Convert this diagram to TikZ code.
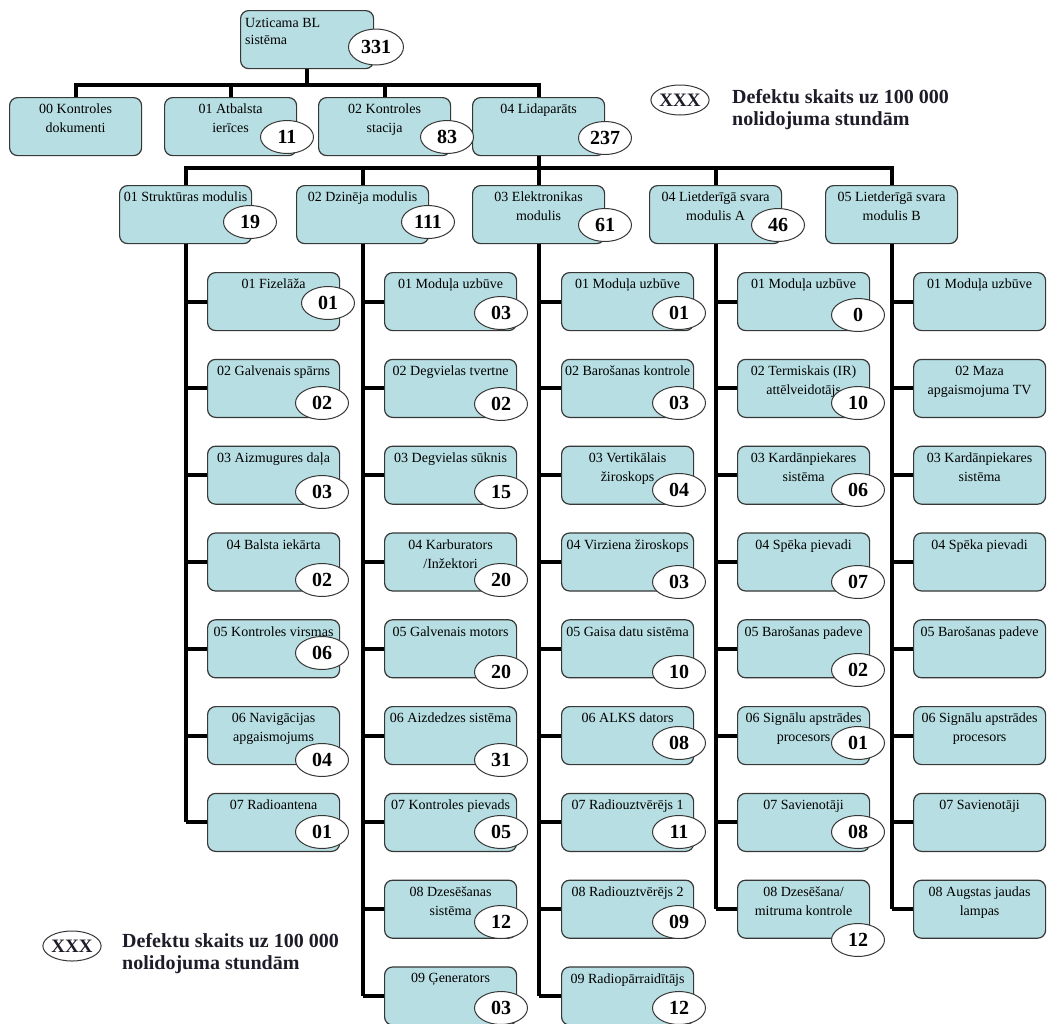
\documentclass[tikz,border=0pt]{standalone}
\usepackage{fontspec}
\setmainfont{Liberation Serif}
\usetikzlibrary{shapes.geometric,calc}
\definecolor{boxfill}{RGB}{183,222,226}
\definecolor{boxline}{RGB}{55,55,55}
\definecolor{legendc}{RGB}{30,28,40}
\tikzset{
 box/.style={draw=boxline, fill=boxfill, line width=1.2pt, rounded corners=8pt, minimum width=132pt, minimum height=58pt, anchor=north west, inner sep=0pt},
 btxt/.style={font=\fontsize{14}{19}\selectfont, align=center, inner sep=0pt, anchor=north},
 num/.style={ellipse, draw=boxline, fill=white, line width=1pt, minimum width=53pt, minimum height=33pt, inner sep=0pt, font=\fontsize{20}{20}\selectfont\bfseries},
 conn/.style={line width=4pt, black},
 legend/.style={font=\fontsize{20}{22}\selectfont\bfseries, align=left, anchor=north west, inner sep=0pt, text=legendc},
 xxx/.style={ellipse, draw=boxline, fill=white, line width=1pt, minimum width=51pt, minimum height=30pt, inner sep=0pt, font=\fontsize{19}{19}\selectfont\bfseries, text=legendc}
}
\newcommand\mybox[4]{%
 \node[box] (#1) at (#2,#3) {};
 \node[btxt] (#1t) at ([yshift=-7pt]#1.north) {#4};}
\begin{document}
\begin{tikzpicture}[x=1pt,y=-1pt]
\useasboundingbox (0,0) rectangle (1047,1023);
% top
\node[box, minimum width=133pt] (top) at (240,10) {};
\node[btxt, align=left, anchor=north west, font=\fontsize{14}{17}\selectfont] (topt) at ([xshift=5pt,yshift=-8pt]top.north west) {Uzticama BL\\sistēma};
% level 1
\mybox{La}{9}{97}{00 Kontroles\\dokumenti}
\mybox{Lb}{164}{97}{01 Atbalsta\\ierīces}
\mybox{Lc}{318}{97}{02 Kontroles\\stacija}
\mybox{Ld}{472}{97}{04 Lidaparāts}
% level 2
\mybox{Ma}{119}{185}{01 Struktūras modulis}
\mybox{Mb}{296}{185}{02 Dzinēja modulis}
\mybox{Mc}{472}{185}{03 Elektronikas\\modulis}
\mybox{Md}{649}{185}{04 Lietderīgā svara\\modulis A}
\mybox{Me}{825}{185}{05 Lietderīgā svara\\modulis B}
% level 1-2 connectors
\coordinate (b1) at (0,85);
\coordinate (b2) at (0,168);
\draw[conn] (top.south) -- (top.south |- b1);
\draw[conn] (La.north) -- (La.north |- b1) -- (Ld.north |- b1) -- (Ld.north);
\draw[conn] (Lb.north) -- (Lb.north |- b1);
\draw[conn] (Lc.north) -- (Lc.north |- b1);
\draw[conn] (Ld.south) -- (Ld.south |- b2);
\draw[conn] (Ma.north) -- (Ma.north |- b2) -- (Me.north |- b2) -- (Me.north);
\draw[conn] (Mb.north) -- (Mb.north |- b2);
\draw[conn] (Mc.north) -- (Mc.north |- b2);
\draw[conn] (Md.north) -- (Md.north |- b2);
% column 1
\foreach \r/\t in {1/{01 Fizelāža},2/{02 Galvenais spārns},3/{03 Aizmugures daļa},4/{04 Balsta iekārta},5/{05 Kontroles virsmas},6/{06 Navigācijas\\apgaismojums},7/{07 Radioantena}}{
 \pgfmathsetmacro\T{272+86.8*(\r-1)}
 \mybox{a\r}{207}{\T}{\t}
 \draw[conn] (Ma.south |- a\r.west) -- (a\r.west);}
\draw[conn] (Ma.south) -- (Ma.south |- a7.west);
% column 2
\foreach \r/\t in {1/{01 Moduļa uzbūve},2/{02 Degvielas tvertne},3/{03 Degvielas sūknis},4/{04 Karburators\\/Inžektori},5/{05 Galvenais motors},6/{06 Aizdedzes sistēma},7/{07 Kontroles pievads},8/{08 Dzesēšanas\\sistēma},9/{09 Ģenerators}}{
 \pgfmathsetmacro\T{272+86.8*(\r-1)}
 \mybox{b\r}{384}{\T}{\t}
 \draw[conn] (Mb.south |- b\r.west) -- (b\r.west);}
\draw[conn] (Mb.south) -- (Mb.south |- b9.west);
% column 3
\foreach \r/\t in {1/{01 Moduļa uzbūve},2/{02 Barošanas kontrole},3/{03 Vertikālais\\žiroskops},4/{04 Virziena žiroskops},5/{05 Gaisa datu sistēma},6/{06 ALKS dators},7/{07 Radiouztvērējs 1},8/{08 Radiouztvērējs 2},9/{09 Radiopārraidītājs}}{
 \pgfmathsetmacro\T{272+86.8*(\r-1)}
 \mybox{c\r}{561}{\T}{\t}
 \draw[conn] (Mc.south |- c\r.west) -- (c\r.west);}
\draw[conn] (Mc.south) -- (Mc.south |- c9.west);
% column 4
\foreach \r/\t in {1/{01 Moduļa uzbūve},2/{02 Termiskais (IR)\\attēlveidotājs},3/{03 Kardānpiekares\\sistēma},4/{04 Spēka pievadi},5/{05 Barošanas padeve},6/{06 Signālu apstrādes\\procesors},7/{07 Savienotāji},8/{08 Dzesēšana/\\mitruma kontrole}}{
 \pgfmathsetmacro\T{272+86.8*(\r-1)}
 \mybox{d\r}{737}{\T}{\t}
 \draw[conn] (Md.south |- d\r.west) -- (d\r.west);}
\draw[conn] (Md.south) -- (Md.south |- d8.west);
% column 5
\foreach \r/\t in {1/{01 Moduļa uzbūve},2/{02 Maza\\apgaismojuma TV},3/{03 Kardānpiekares\\sistēma},4/{04 Spēka pievadi},5/{05 Barošanas padeve},6/{06 Signālu apstrādes\\procesors},7/{07 Savienotāji},8/{08 Augstas jaudas\\lampas}}{
 \pgfmathsetmacro\T{272+86.8*(\r-1)}
 \mybox{e\r}{913}{\T}{\t}
 \draw[conn] (Me.south |- e\r.west) -- (e\r.west);}
\draw[conn] (Me.south) -- (Me.south |- e8.west);
% numbers
\node[num, minimum width=55pt, minimum height=36pt] (topn) at (376,47) {331};
\node[num] (Lbn) at (287,137) {11};
\node[num] (Lcn) at (447,137) {83};
\node[num] (Ldn) at (605,138) {237};
\node[num] (Man) at (250,222) {19};
\node[num] (Mbn) at (428,222) {111};
\node[num] (Mcn) at (605,225) {61};
\node[num] (Mdn) at (778,225) {46};
\foreach \r/\n/\y/\x in {1/01/303/328,2/02/403/322,3/03/492/322,4/02/580/322,5/06/653/322,6/04/760/322,7/01/832/322}
 \node[num] (a\r n) at (\x,\y) {\n};
\foreach \r/\n/\y in {1/03/313,2/02/404,3/15/492,4/20/580,5/20/672,6/31/760,7/05/832,8/12/922,9/03/1008}
 \node[num] (b\r n) at (501,\y) {\n};
\foreach \r/\n/\y in {1/01/313,2/03/403,3/04/490,4/03/582,5/10/672,6/08/743,7/11/832,8/09/922,9/12/1008}
 \node[num] (c\r n) at (679,\y) {\n};
\foreach \r/\n/\y in {1/0/315,2/10/403,3/06/490,4/07/582,5/02/670,6/01/743,7/08/832,8/12/940}
 \node[num] (d\r n) at (858,\y) {\n};
% legends
\node[xxx] (lg1) at (680,100) {XXX};
\node[legend] (lg1t) at (732,89) {Defektu skaits uz 100 000\\nolidojuma stundām};
\node[xxx] (lg2) at (72,946) {XXX};
\node[legend] (lg2t) at (122,933) {Defektu skaits uz 100 000\\nolidojuma stundām};
\end{tikzpicture}
\end{document}
